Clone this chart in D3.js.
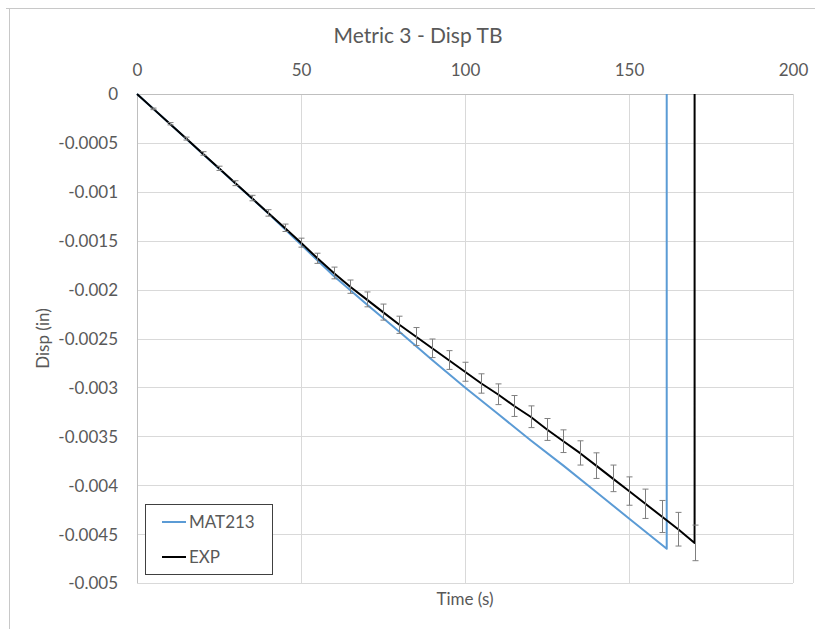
<!DOCTYPE html>
<html>
<head>
<meta charset="utf-8">
<script src="https://cdn.jsdelivr.net/npm/d3@7/dist/d3.min.js"></script>
<style>
  html, body { margin: 0; padding: 0; background: #fff; }
  svg text { font-family: Lato, "Open Sans", sans-serif; fill: #595959; }
</style>
</head>
<body>
<svg id="chart" width="815" height="629"></svg>
<script>
// Time samples (s) for the experimental curve, with the mean displacement and error half-widths
const expTime = [0, 5, 10, 15, 20, 25, 30, 35, 40, 45, 50, 55, 60, 65, 70, 75, 80, 85,
  90, 95, 100, 105, 110, 115, 120, 125, 130, 135, 140, 145, 150, 155, 160, 165, 170, 170];
const expDisp = [0, -0.000152, -0.000304, -0.000456, -0.000608, -0.00076, -0.000912,
  -0.001064, -0.001216, -0.001368, -0.00152, -0.00168, -0.00183, -0.00197, -0.0021,
  -0.00223, -0.00236, -0.00248, -0.0026, -0.00272, -0.00284, -0.00296, -0.00307,
  -0.00319, -0.0033, -0.00343, -0.00355, -0.00367, -0.0038, -0.00393, -0.00406,
  -0.00419, -0.00432, -0.00445, -0.00459, 0];
const expErr = [0, 0.000008, 0.000012, 0.000015, 0.000018, 0.000022, 0.000025, 0.000028,
  0.000033, 0.000038, 0.000046, 0.000052, 0.00006, 0.000068, 0.000076, 0.000082,
  0.000088, 0.000092, 0.000095, 0.000096, 0.000097, 0.000099, 0.000106, 0.000107,
  0.000111, 0.000112, 0.000116, 0.000124, 0.000131, 0.000136, 0.000145, 0.00015,
  0.000164, 0.000172, 0.000182, null];

// Simulated MAT213 response
const matTime = [0, 10, 20, 30, 40, 50, 60, 70, 80, 90, 100, 110, 120, 130, 140, 150, 161.5, 161.5];
const matDisp = [0, -0.000305, -0.00061, -0.000915, -0.00122, -0.00154, -0.00186, -0.00215,
  -0.00243, -0.00272, -0.003, -0.00327, -0.00354, -0.0038, -0.00407, -0.00434, -0.00465, 0];

// Axis ticks
const xTicks = [0, 50, 100, 150, 200];
const yTicks = [0, -0.0005, -0.001, -0.0015, -0.002, -0.0025, -0.003, -0.0035, -0.004, -0.0045, -0.005];
const yTickLabels = ["0", "-0.0005", "-0.001", "-0.0015", "-0.002", "-0.0025", "-0.003",
  "-0.0035", "-0.004", "-0.0045", "-0.005"];

const seriesNames = ["MAT213", "EXP"];
const seriesColors = ["#5b9bd5", "#000000"];

const svg = d3.select("#chart");
const plotL = 137, plotR = 793, plotT = 94, plotB = 583;

const x = d3.scaleLinear().domain([0, 200]).range([plotL, plotR]);
const y = d3.scaleLinear().domain([0, -0.005]).range([plotT, plotB]);

// Chart frame (top and left edges)
svg.append("line").attr("x1", 6).attr("x2", 815).attr("y1", 8.5).attr("y2", 8.5)
  .attr("stroke", "#c8c8c8").attr("stroke-width", 1);
svg.append("line").attr("x1", 9.5).attr("x2", 9.5).attr("y1", 8).attr("y2", 629)
  .attr("stroke", "#c8c8c8").attr("stroke-width", 1);

// Gridlines
const grid = svg.append("g");
grid.selectAll("line.h").data(yTicks).join("line")
  .attr("x1", plotL).attr("x2", plotR)
  .attr("y1", d => Math.round(y(d)) + 0.5).attr("y2", d => Math.round(y(d)) + 0.5)
  .attr("stroke", "#d9d9d9").attr("stroke-width", 1);
grid.selectAll("line.v").data(xTicks).join("line")
  .attr("y1", plotT).attr("y2", plotB)
  .attr("x1", d => Math.round(x(d)) + 0.5).attr("x2", d => Math.round(x(d)) + 0.5)
  .attr("stroke", "#d9d9d9").attr("stroke-width", 1);

// Axis lines through the origin
svg.append("line").attr("x1", Math.round(x(0)) + 0.5).attr("x2", Math.round(x(0)) + 0.5)
  .attr("y1", plotT).attr("y2", plotB).attr("stroke", "#bfbfbf");
svg.append("line").attr("x1", plotL).attr("x2", plotR)
  .attr("y1", Math.round(y(0)) + 0.5).attr("y2", Math.round(y(0)) + 0.5).attr("stroke", "#bfbfbf");

// Horizontal axis labels along the top
const xAxis = d3.axisTop(x).tickValues(xTicks).tickSize(0).tickPadding(0).tickFormat(d3.format("d"));
const gx = svg.append("g").attr("transform", `translate(0,${plotT})`).call(xAxis);
gx.select(".domain").remove();
gx.selectAll("text").attr("y", -18).attr("dy", 0).style("font-size", "17px")
  .style("font-family", "Lato, sans-serif").attr("fill", "#595959");

// Vertical axis labels
const yAxis = d3.axisLeft(y).tickValues(yTicks).tickSize(0).tickPadding(0)
  .tickFormat((d, i) => yTickLabels[i]);
const gy = svg.append("g").attr("transform", `translate(${plotL - 19},0)`).call(yAxis);
gy.select(".domain").remove();
gy.selectAll("text").attr("x", 0).attr("dy", "0.35em").style("font-size", "17px")
  .style("font-family", "Lato, sans-serif").attr("fill", "#595959");

// Titles
svg.append("text").attr("x", 418).attr("y", 43).attr("text-anchor", "middle")
  .style("font-size", "21px").text("Metric 3 - Disp TB");
svg.append("text").attr("x", (plotL + plotR) / 2).attr("y", 605).attr("text-anchor", "middle")
  .style("font-size", "17px").text("Time (s)");
svg.append("text").attr("transform", `translate(49,${(plotT + plotB) / 2}) rotate(-90)`)
  .attr("text-anchor", "middle").style("font-size", "17px").text("Disp (in)");

const line = d3.line().x(d => x(d[0])).y(d => y(d[1]));

const matPts = matTime.map((t, i) => [t, matDisp[i]]);
const expPts = expTime.map((t, i) => [t, expDisp[i]]);

const plot = svg.append("g");
plot.append("path").datum(matPts).attr("d", line)
  .attr("fill", "none").attr("stroke", seriesColors[0]).attr("stroke-width", 2)
  .attr("stroke-linejoin", "round");
plot.append("path").datum(expPts).attr("d", line)
  .attr("fill", "none").attr("stroke", seriesColors[1]).attr("stroke-width", 2)
  .attr("stroke-linejoin", "round");

// Error bars on the experimental points
const errData = expTime.map((t, i) => ({ t, v: expDisp[i], e: expErr[i] }))
  .filter(d => d.e !== null && d.e > 0);
const eb = plot.append("g").attr("stroke", "#7f7f7f").attr("stroke-width", 1).attr("fill", "none");
const capW = 3;
eb.selectAll("g").data(errData).join("g").each(function (d) {
  const g = d3.select(this);
  const cx = Math.round(x(d.t)) + 0.5;
  const y1 = y(d.v + d.e), y2 = y(d.v - d.e);
  g.append("line").attr("x1", cx).attr("x2", cx).attr("y1", y1).attr("y2", y2);
  g.append("line").attr("x1", cx - capW).attr("x2", cx + capW).attr("y1", y1).attr("y2", y1);
  g.append("line").attr("x1", cx - capW).attr("x2", cx + capW).attr("y1", y2).attr("y2", y2);
});

// Legend
const lg = svg.append("g");
lg.append("rect").attr("x", 145.5).attr("y", 504.5).attr("width", 127).attr("height", 70)
  .attr("fill", "#fff").attr("stroke", "#404040").attr("stroke-width", 1);
seriesNames.forEach((name, i) => {
  const ly = 522 + i * 35;
  lg.append("line").attr("x1", 162).attr("x2", 186).attr("y1", ly).attr("y2", ly)
    .attr("stroke", seriesColors[i]).attr("stroke-width", 2);
  lg.append("text").attr("x", 189).attr("y", ly + 6).style("font-size", "17px").text(name);
});
</script>
</body>
</html>
